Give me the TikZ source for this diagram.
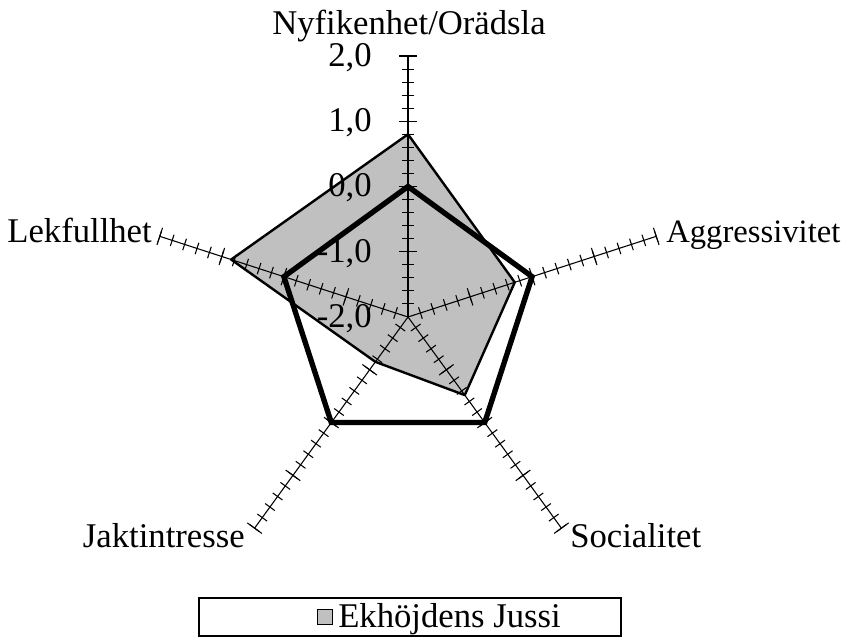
\documentclass[tikz,border=0pt]{standalone}
\usepackage{fontspec}
\setmainfont{Liberation Serif}
\definecolor{seriesgray}{RGB}{192,192,192}
\tikzset{lbl/.style={inner sep=0pt,font=\fontsize{26}{30}\selectfont}}
\begin{document}
\begin{tikzpicture}[x=0.75pt,y=0.75pt]
\useasboundingbox (0,0) rectangle (849,639);
\begin{scope}[shift={(408,322)}]
\filldraw[fill=seriesgray,draw=black,line width=1.8pt,line join=round] (90:{(0.8+2)*65.25}) -- (18:{(-0.28+2)*65.25}) -- (-54:{(-0.52+2)*65.25}) -- (-126:{(-1.15+2)*65.25}) -- (162:{(0.85+2)*65.25}) -- cycle;
\foreach \a in {90,18,-54,-126,162}{
\begin{scope}[rotate=\a]
\draw[line width=0.8pt] (0,0) -- (261,0);
\foreach \k in {1,...,20} \draw[line width=0.8pt] (\k*13.05,-6) -- (\k*13.05,6);
\foreach \k in {1,...,4} \draw[line width=0.8pt] (\k*65.25,-9) -- (\k*65.25,9);
\end{scope}
}
\draw[line width=4pt,line join=miter] (90:130.5) -- (18:130.5) -- (-54:130.5) -- (-126:130.5) -- (162:130.5) -- cycle;
\end{scope}
\node(nyf) at (409,604)[lbl,anchor=base] {Nyfikenhet/Orädsla};
\node(agg) at (666,396)[lbl,anchor=base west,font=\fontsize{24.5}{30}\selectfont] {Aggressivitet};
\node(soc) at (570,92)[lbl,anchor=base west] {Socialitet};
\node(jakt) at (245,92)[lbl,anchor=base east] {Jaktintresse};
\node(lek) at (152,396)[lbl,anchor=base east] {Lekfullhet};
\node(v2) at (372,572)[lbl,anchor=base east] {2,0};
\node(v1) at (372,507)[lbl,anchor=base east] {1,0};
\node(v0) at (372,442)[lbl,anchor=base east] {0,0};
\node(vm1) at (372,376)[lbl,anchor=base east] {-1,0};
\node(vm2) at (372,311)[lbl,anchor=base east] {-2,0};
\draw[line width=0.8pt] (199,3) rectangle (621,41);
\node(key) at (325,22)[fill=seriesgray,draw=black,line width=1.2pt,minimum size=11pt,inner sep=0pt] {};
\node(name) at (338,12)[lbl,anchor=base west] {Ekhöjdens Jussi};
\end{tikzpicture}
\end{document}
